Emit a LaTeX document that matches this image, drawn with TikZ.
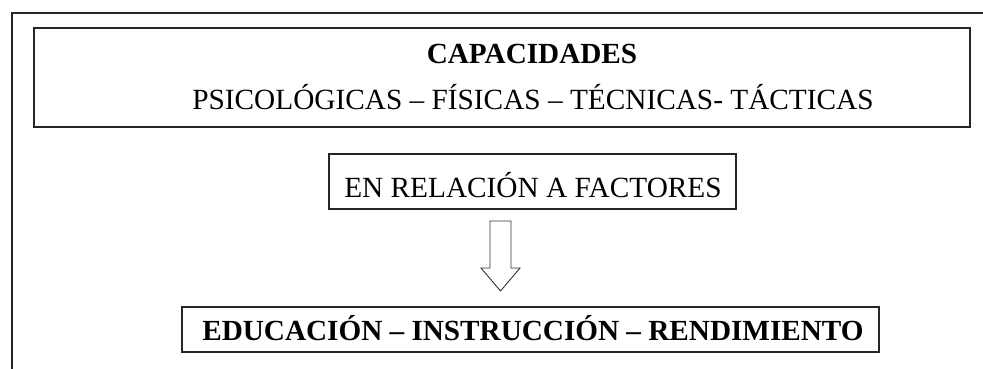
\documentclass[tikz,border=0pt]{standalone}
\usepackage{fontspec}
\setmainfont{Liberation Serif}
\begin{document}
\begin{tikzpicture}[x=1pt,y=-1pt,
  frame/.style={draw=black!85,line width=2.4pt},
  box/.style={draw=black!85,line width=2.4pt,inner sep=0pt,anchor=north west},
  txt/.style={anchor=base,font=\fontsize{29.3}{34}\selectfont},
  btxt/.style={anchor=base,font=\fontsize{29.2}{34}\selectfont\bfseries},
  bigarrow/.style={draw=black!80,line width=0.9pt,fill=white}]
\useasboundingbox (0,0) rectangle (983,368);
\draw[frame] (12,380) -- (12,13) -- (995,13);
\node[box,minimum width=936pt,minimum height=99pt] (top) at (33,27) {};
\node[btxt] (cap) at (532,63) {CAPACIDADES};
\node[txt] (kinds) at (533,109) {PSICOLÓGICAS – FÍSICAS – TÉCNICAS- TÁCTICAS};
\node[box,minimum width=407pt,minimum height=55pt] (mid) at (328,153) {};
\node[txt] (rel) at (533,197) {EN RELACIÓN A FACTORES};
\node[box,minimum width=697pt,minimum height=45pt] (bot) at (181,306) {};
\node[btxt] (edu) at (533,340) {EDUCACIÓN – INSTRUCCIÓN – RENDIMIENTO};
\draw[bigarrow] (490,221) -- (511,221) -- (511,268) -- (520,268) -- (500.5,291) -- (481,268) -- (490,268) -- cycle;
\end{tikzpicture}
\end{document}
